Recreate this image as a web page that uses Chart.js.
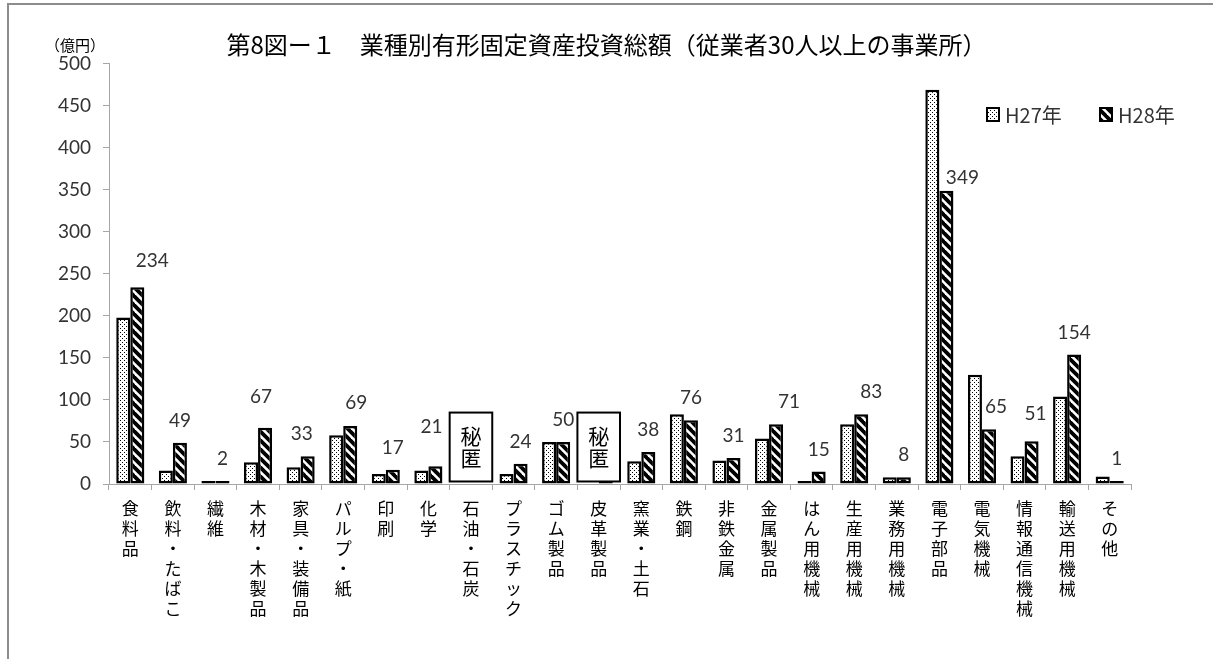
<!DOCTYPE html>
<html>
<head>
<meta charset="utf-8">
<script src="https://cdn.jsdelivr.net/npm/chart.js@4/dist/chart.umd.min.js"></script>
<style>
  html, body { margin: 0; padding: 0; background: #fff; }
  #wrap { position: relative; width: 1213px; height: 659px; overflow: hidden; }
  #frame { position: absolute; left: 7px; top: 3px; width: 1300px; height: 800px; border: 2px solid #8c8c8c; box-sizing: border-box; }
  canvas { position: absolute; left: 0; top: 0; }
</style>
</head>
<body>
<div id="wrap">
  <div id="frame"></div>
  <canvas id="c" width="1213" height="659"></canvas>
</div>
<script>
const categories = ['食料品','飲料・たばこ','繊維','木材・木製品','家具・装備品','パルプ・紙','印刷','化学','石油・石炭','プラスチック','ゴム製品','皮革製品','窯業・土石','鉄鋼','非鉄金属','金属製品','はん用機械','生産用機械','業務用機械','電子部品','電気機械','情報通信機械','輸送用機械','その他'];
const seriesNames = ['H27年', 'H28年'];
const h27 = [198, 16, 1, 26, 20, 58, 12, 16, null, 12, 50, null, 27, 83, 28, 54, 1, 71, 8, 469, 130, 33, 104, 9];
const h28 = [234, 49, 2, 67, 33, 69, 17, 21, null, 24, 50, 2, 38, 76, 31, 71, 15, 83, 8, 349, 65, 51, 154, 1];
const hiddenCats = ['石油・石炭', '皮革製品'];
const hiddenText = '秘匿';
const yMin = 0, yMax = 500, yStep = 50;
const titleText = '第8図ー１　業種別有形固定資産投資総額（従業者30人以上の事業所）';
const unitText = '（億円）';

const NUM_FONT = 'Lato, "Open Sans", sans-serif';
const JP_FONT = '"Noto Sans CJK JP", "Noto Sans", sans-serif';

function dotPattern() {
  const c = document.createElement('canvas');
  c.width = 4; c.height = 4;
  const g = c.getContext('2d');
  g.fillStyle = '#fff'; g.fillRect(0, 0, 4, 4);
  g.fillStyle = '#000';
  g.fillRect(0, 0, 1, 1);
  g.fillRect(2, 2, 1, 1);
  return g.createPattern(c, 'repeat');
}
function stripePattern() {
  const s = 9;
  const c = document.createElement('canvas');
  c.width = s; c.height = s;
  const g = c.getContext('2d');
  g.fillStyle = '#fff'; g.fillRect(0, 0, s, s);
  g.strokeStyle = '#000'; g.lineWidth = 3.8; g.lineCap = 'square';
  for (const o of [-s, 0, s]) {
    g.beginPath(); g.moveTo(o, 0); g.lineTo(o + s, s); g.stroke();
  }
  return g.createPattern(c, 'repeat');
}
const fills = [dotPattern(), stripePattern()];

const extras = {
  id: 'extras',
  afterDatasetsDraw(chart, args, opts) {
    const ctx = chart.ctx;
    const xs = chart.scales.x, ys = chart.scales.y;
    const catW = xs.getPixelForValue(1) - xs.getPixelForValue(0);
    ctx.save();
    // hidden (秘匿) boxes
    hiddenCats.forEach(c => {
      const i = categories.indexOf(c);
      const cx = xs.getPixelForValue(i);
      const top = ys.getPixelForValue(opts.boxTop);
      const bot = ys.getPixelForValue(opts.boxBottom);
      ctx.fillStyle = '#fff';
      ctx.fillRect(cx - catW / 2, top, catW, bot - top);
      ctx.strokeStyle = '#000'; ctx.lineWidth = 2;
      ctx.strokeRect(cx - catW / 2, top, catW, bot - top);
      ctx.fillStyle = '#000';
      ctx.font = '21px ' + JP_FONT;
      ctx.textAlign = 'center'; ctx.textBaseline = 'middle';
      const mid = (top + bot) / 2;
      const chars = Array.from(hiddenText);
      chars.forEach((ch, k) => {
        ctx.fillText(ch, cx, mid + (k - (chars.length - 1) / 2) * 22);
      });
    });
    // data labels for H28
    const meta = chart.getDatasetMeta(1);
    ctx.fillStyle = '#333';
    ctx.font = '19px ' + NUM_FONT;
    ctx.textAlign = 'center'; ctx.textBaseline = 'middle';
    meta.data.forEach((bar, i) => {
      if (h28[i] == null || hiddenCats.includes(categories[i])) return;
      const n = opts.nudge[categories[i]] || [0, 0];
      ctx.fillText(String(h28[i]), bar.x + n[0], bar.y - 22 + n[1]);
    });
    ctx.restore();
  },
  afterDraw(chart, args, opts) {
    const ctx = chart.ctx;
    ctx.save();
    // unit label
    ctx.fillStyle = '#000';
    ctx.font = '15px ' + JP_FONT;
    ctx.textAlign = 'center'; ctx.textBaseline = 'middle';
    ctx.fillText(unitText, 75, 45);
    // legend
    ctx.textAlign = 'left';
    const items = [[987, 1005], [1100, 1118]];
    chart.data.datasets.forEach((ds, k) => {
      const [bx, tx] = items[k];
      ctx.fillStyle = ds.backgroundColor;
      ctx.fillRect(bx, 108, 12, 13);
      ctx.strokeStyle = '#000'; ctx.lineWidth = 2;
      ctx.strokeRect(bx, 108, 12, 13);
      ctx.fillStyle = '#333';
      ctx.font = '20px ' + JP_FONT;
      ctx.fillText(ds.label, tx, 115);
    });
    ctx.restore();
  }
};

new Chart(document.getElementById('c'), {
  type: 'bar',
  data: {
    labels: categories,
    datasets: [
      { label: seriesNames[0], data: h27, backgroundColor: fills[0], borderColor: '#000', borderWidth: 2.5, borderSkipped: false, minBarLength: 3 },
      { label: seriesNames[1], data: h28, backgroundColor: fills[1], borderColor: '#000', borderWidth: 2.5, borderSkipped: false, minBarLength: 3 }
    ]
  },
  options: {
    responsive: false,
    animation: false,
    devicePixelRatio: 1,
    layout: { padding: { left: 0, right: 0, top: 0, bottom: 0 } },
    datasets: { bar: { categoryPercentage: 0.66, barPercentage: 1.0 } },
    plugins: {
      legend: { display: false },
      tooltip: { enabled: false },
      title: {
        display: true,
        text: titleText,
        color: '#000',
        font: { family: JP_FONT, size: 24, weight: 'normal', lineHeight: 1.2 },
        padding: { top: 30, bottom: 5 }
      },
      extras: {
        boxTop: 85, boxBottom: 3,
        nudge: {
          '食料品': [15, -4], '木材・木製品': [-4, -9], '家具・装備品': [-6, 0], 'パルプ・紙': [6, -1],
          '化学': [-4, -17], '金属製品': [13, 0], '生産用機械': [10, 0], '電子部品': [16, 9],
          '電気機械': [7, 0], '情報通信機械': [4, -5]
        }
      }
    },
    scales: {
      x: {
        grid: { drawOnChartArea: false, drawTicks: true, tickLength: 6, tickColor: '#a6a6a6', offset: true },
        border: { color: '#a6a6a6', width: 1 },
        ticks: {
          autoSkip: false, maxRotation: 0, minRotation: 0, padding: 9,
          color: '#000',
          font: { family: JP_FONT, size: 17, lineHeight: 1.17 },
          callback: function (v) { return Array.from(this.getLabelForValue(v)); }
        },
        afterFit: s => { s.height = 175; }
      },
      y: {
        min: yMin, max: yMax,
        grid: { drawOnChartArea: false, drawTicks: true, tickLength: 6, tickColor: '#a6a6a6' },
        border: { color: '#a6a6a6', width: 1 },
        ticks: { stepSize: yStep, padding: 12, color: '#333', font: { family: NUM_FONT, size: 19 } },
        afterFit: s => { s.width = 109; }
      },
      yRight: {
        position: 'right', display: true,
        grid: { display: false }, border: { display: false },
        ticks: { display: false },
        afterFit: s => { s.width = 82; }
      }
    }
  },
  plugins: [extras]
});
</script>
</body>
</html>
